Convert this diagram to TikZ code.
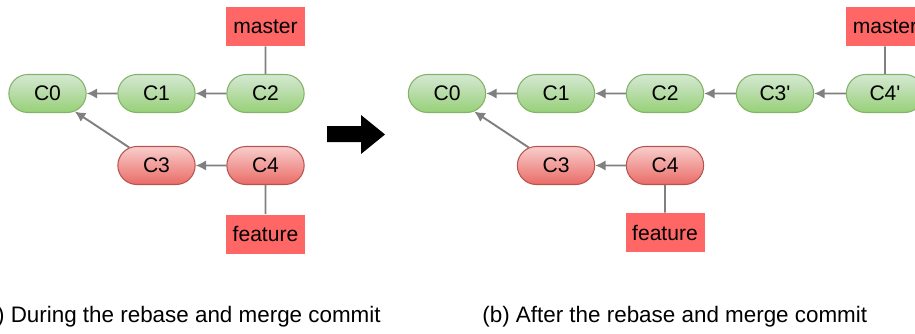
\documentclass[tikz,border=0pt]{standalone}
\usepackage{fontspec}
\setmainfont{Liberation Sans}
\usetikzlibrary{shapes.misc,arrows.meta}
\definecolor{greentop}{HTML}{D5E8D4}
\definecolor{greenbot}{HTML}{97D077}
\definecolor{greenline}{HTML}{82B366}
\definecolor{redtop}{HTML}{F8CECC}
\definecolor{redbot}{HTML}{EA6B66}
\definecolor{redline}{HTML}{B85450}
\definecolor{labelred}{HTML}{FF6666}
\definecolor{linkgray}{HTML}{808080}

\begin{document}
\begin{tikzpicture}[>={Latex[length=6pt,width=6pt]},
  commit/.style={rounded rectangle, minimum width=1.78cm, minimum height=0.76cm,
    line width=0.6pt, font=\fontsize{12}{14}\selectfont},
  main/.style={commit, draw=greenline, top color=greentop, bottom color=greenbot},
  topic/.style={commit, draw=redline, top color=redtop, bottom color=redbot},
  branch/.style={fill=labelred, minimum width=1.58cm, minimum height=0.78cm,
    font=\fontsize{12}{14}\selectfont},
  caption/.style={inner sep=0pt, font=\fontsize{12.75}{15}\selectfont},
  link/.style={draw=linkgray, line width=1.1pt}]
\clip (0,0) rectangle (18.3,6.66);
% before
\node[main] (a0) at (0.95,4.79) {C0};
\node[main] (a1) at (3.13,4.79) {C1};
\node[main] (a2) at (5.31,4.79) {C2};
\node[topic] (a3) at (3.13,3.35) {C3};
\node[topic] (a4) at (5.31,3.35) {C4};
\node[branch] (am) at (5.31,6.13) {master};
\node[branch] (af) at (5.31,1.98) {feature};
\draw[link,->] (a1) -- (a0);
\draw[link,->] (a2) -- (a1);
\draw[link,->] (a3) -- (a0);
\draw[link,->] (a4) -- (a3);
\draw[link] (am) -- (a2);
\draw[link] (af) -- (a4);
% big arrow
\fill (6.54,3.82) -- (6.54,4.14) -- (7.22,4.14) -- (7.22,4.36) -- (7.70,3.97)
  -- (7.22,3.58) -- (7.22,3.82) -- cycle;
% after
\node[main] (b0) at (8.94,4.79) {C0};
\node[main] (b1) at (11.12,4.79) {C1};
\node[main] (b2) at (13.30,4.79) {C2};
\node[main] (b3) at (15.50,4.79) {C3\textquotesingle};
\node[main] (b4) at (17.70,4.79) {C4\textquotesingle};
\node[topic] (b5) at (11.12,3.35) {C3};
\node[topic] (b6) at (13.30,3.35) {C4};
\node[branch] (bm) at (17.70,6.13) {master};
\node[branch] (bf) at (13.30,2.01) {feature};
\draw[link,->] (b1) -- (b0);
\draw[link,->] (b2) -- (b1);
\draw[link,->] (b3) -- (b2);
\draw[link,->] (b4) -- (b3);
\draw[link,->] (b5) -- (b0);
\draw[link,->] (b6) -- (b5);
\draw[link] (bm) -- (b4);
\draw[link] (bf) -- (b6);
% captions
\node[caption, anchor=base east] (capa) at (7.62,0.22)
  {(a) During the rebase and merge commit};
\node[caption, anchor=base west] (capb) at (9.64,0.22)
  {(b) After the rebase and merge commit};
\end{tikzpicture}
\end{document}
